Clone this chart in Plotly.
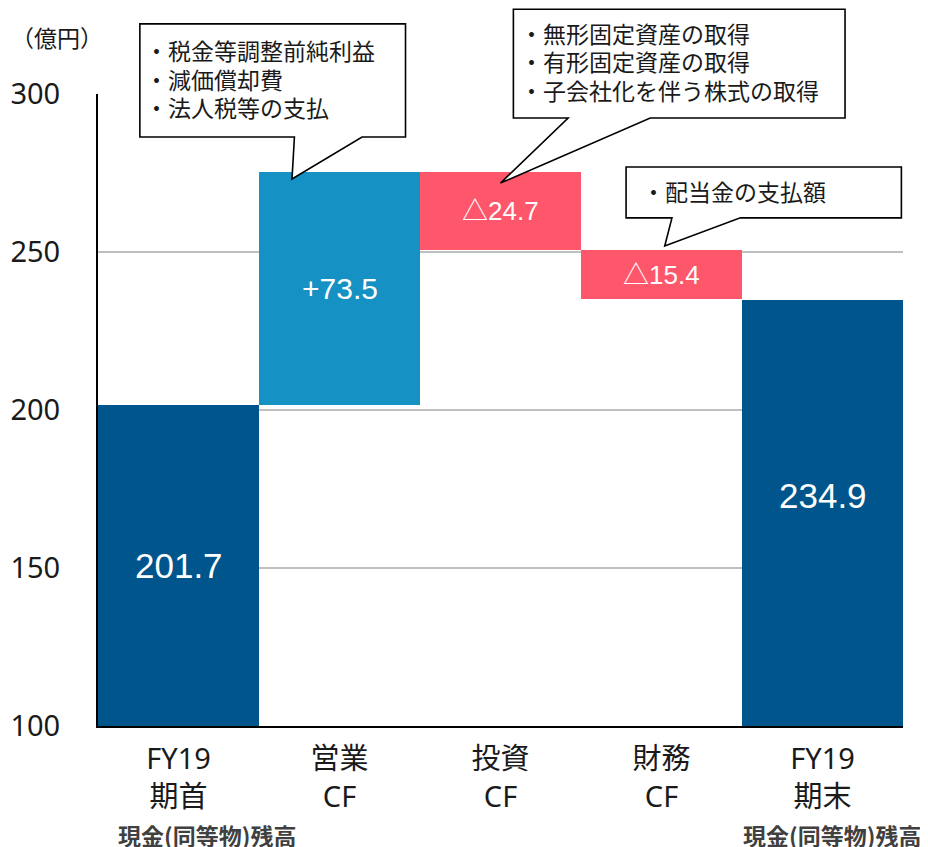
import plotly.graph_objects as go

# ---------------- data ----------------
categories = ["FY19<br>期首", "営業<br>CF", "投資<br>CF", "財務<br>CF", "FY19<br>期末"]
start_balance = 201.7
cf_changes = [73.5, -24.7, -15.4]          # 営業CF, 投資CF, 財務CF
end_balance = 234.9
y_ticks = [100, 150, 200, 250, 300]
unit_label = "（億円）"
bottom_label = "現金(同等物)残高"
callout_texts = [
    ["税金等調整前純利益", "減価償却費", "法人税等の支払"],
    ["無形固定資産の取得", "有形固定資産の取得", "子会社化を伴う株式の取得"],
    ["配当金の支払額"],
]

# ---------------- derived waterfall geometry ----------------
bases, heights = [0.0], [start_balance]
running = start_balance
for d in cf_changes:
    bases.append(running)
    heights.append(d)
    running += d
bases.append(0.0)
heights.append(end_balance)

labels = [f"{start_balance:.1f}"]
for d in cf_changes:
    labels.append(f"+{d:.1f}" if d >= 0 else f"△{abs(d):.1f}")
labels.append(f"{end_balance:.1f}")

DARK = "#00558C"
UP = "#1591C3"
DOWN = "#FE566B"
colors = [DARK] + [UP if d >= 0 else DOWN for d in cf_changes] + [DARK]

xs = list(range(len(categories)))
YMIN, YMAX = 100, 300

fig = go.Figure()
fig.add_trace(go.Bar(
    x=xs, y=heights, base=bases,
    marker=dict(color=colors, line=dict(width=0)),
    width=1.0, hoverinfo="skip", showlegend=False,
))

LAT = "Noto Sans, Noto Sans CJK JP, sans-serif"
CJK = "Noto Sans CJK JP, Noto Sans, sans-serif"
NUM = "Liberation Sans, Arial, Noto Sans CJK JP, sans-serif"

# helpers: data coords -> paper coords
def px(xd):
    return (xd + 0.5) / len(categories)

def py(yv):
    return (yv - YMIN) / (YMAX - YMIN)

annotations = []
# bar labels
label_sizes = [35, 30, 26, 26, 35]
label_shift = [0, 0, 0, 0, 17]
for i, (b, h, t) in enumerate(zip(bases, heights, labels)):
    lo = max(b, YMIN) if h >= 0 else b + h
    hi = b + h if h >= 0 else b
    annotations.append(dict(
        x=i, y=(lo + hi) / 2, xref="x", yref="y", text=t, showarrow=False,
        font=dict(family=NUM, size=label_sizes[i], color="white"),
        yshift=label_shift[i],
    ))

# callouts (box + tail), geometry in data units
callouts = [
    dict(x0=-0.24, x1=1.41, y0=286.4, y1=322.2, xl=0.72, xr=1.14, tx=0.705, ty=273.1, txt_x=-0.22, txt_y=313.9),
    dict(x0=2.08, x1=4.14, y0=292.4, y1=326.8, xl=2.42, xr=2.93, tx=2.0, ty=271.8, txt_x=2.109, txt_y=319.4),
    dict(x0=2.78, x1=4.49, y0=260.8, y1=276.9, xl=3.065, xr=3.49, tx=3.02, ty=251.9, txt_x=2.866, txt_y=269.3),
]
LINE_STEP = 9.0  # value units between callout text lines (~28.5 px)
shapes = []
for c, lines in zip(callouts, callout_texts):
    pts = [(c["x0"], c["y1"]), (c["x1"], c["y1"]), (c["x1"], c["y0"]), (c["xr"], c["y0"]),
           (c["tx"], c["ty"]), (c["xl"], c["y0"]), (c["x0"], c["y0"])]
    path = "M " + " L ".join(f"{px(a):.5f},{py(b):.5f}" for a, b in pts) + " Z"
    shapes.append(dict(type="path", path=path, xref="paper", yref="paper",
                       fillcolor="white", line=dict(color="black", width=1.6), layer="above"))
    for k, s in enumerate(lines):
        annotations.append(dict(
            x=px(c["txt_x"]), y=py(c["txt_y"] - k * LINE_STEP), xref="paper", yref="paper",
            xanchor="left", yanchor="middle", align="left", showarrow=False,
            text="・" + s,
            font=dict(family=CJK, size=23, color="#1a1a1a"),
        ))

# unit label
annotations.append(dict(x=px(-1.055), y=py(318.0), xref="paper", yref="paper", xanchor="left",
                        yanchor="middle", text=unit_label, showarrow=False,
                        font=dict(family=CJK, size=23, color="#1a1a1a")))
# bottom labels
for xc in (0.177, 4.06):
    annotations.append(dict(x=px(xc), y=-0.172, xref="paper", yref="paper", xanchor="center",
                            yanchor="middle", text=f"<b>{bottom_label}</b>", showarrow=False,
                            font=dict(family=CJK, size=23, color="#404040")))

# page has an 8px body margin, so the figure is 8px smaller and shifted accordingly
fig.update_layout(
    width=920, height=839,
    margin=dict(l=90, r=25, t=86, b=121, pad=0, autoexpand=False),
    plot_bgcolor="white", paper_bgcolor="white",
    bargap=0, shapes=shapes, annotations=annotations,
    xaxis=dict(range=[-0.5, len(categories) - 0.5], tickmode="array", tickvals=xs,
               ticktext=categories, showgrid=False, zeroline=False, automargin=False,
               showline=True, linecolor="black", linewidth=2, ticks="",
               tickfont=dict(family=LAT, size=29, color="#1a1a1a"), ticklabelstandoff=6),
    yaxis=dict(range=[YMIN, YMAX], tickmode="array", tickvals=y_ticks, automargin=False,
               showgrid=True, gridcolor="#BFBFBF", gridwidth=1.5, zeroline=False,
               showline=True, linecolor="black", linewidth=2, ticks="",
               tickfont=dict(family=LAT, size=29, color="#1a1a1a"), ticklabelstandoff=30),
)

fig.write_html("out.html")
